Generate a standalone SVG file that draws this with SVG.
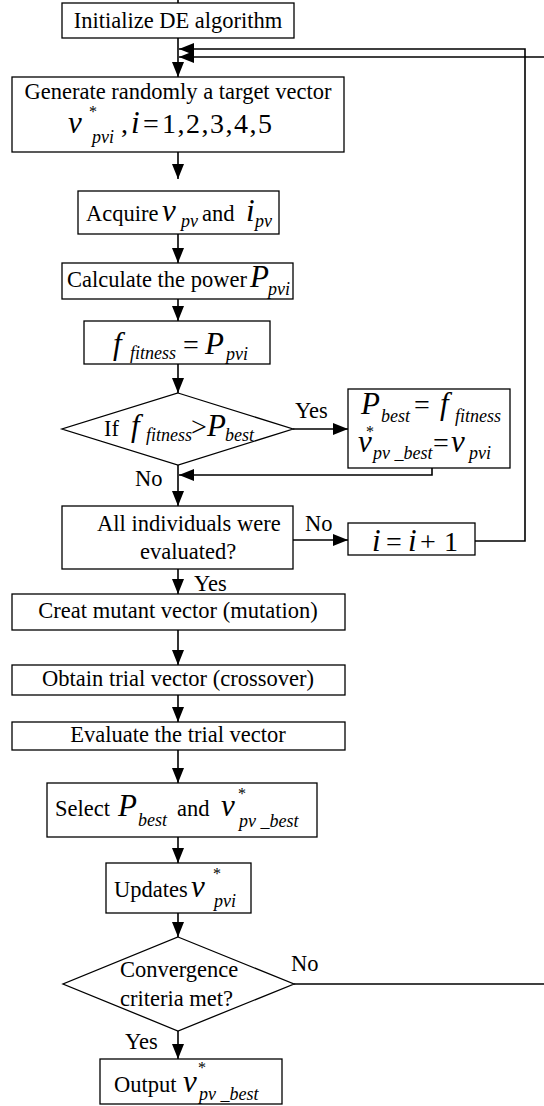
<svg xmlns="http://www.w3.org/2000/svg" width="544" height="1106" viewBox="0 0 544 1106">
<style>
.bx{fill:#fff;stroke:#000;stroke-width:1.3}
.ln{fill:none;stroke:#000;stroke-width:1.6}
.t{font-family:"Liberation Serif","Times New Roman",serif;font-size:22.5px;fill:#000}
.m{font-family:"Liberation Serif","Times New Roman",serif;font-style:italic;font-size:31px;fill:#000}
.u{font-family:"Liberation Serif","Times New Roman",serif;font-size:28px;fill:#000}
.s{font-family:"Liberation Serif","Times New Roman",serif;font-style:italic;font-size:18px;fill:#000}
.a{font-family:"Liberation Serif","Times New Roman",serif;font-size:16px;fill:#000}
</style>
<defs>
<marker id="ah" markerWidth="15" markerHeight="12" refX="15" refY="6" orient="auto" markerUnits="userSpaceOnUse"><path d="M0,0 L15,6 L0,12 z" fill="#000"/></marker>
</defs>
<rect width="544" height="1106" fill="#fff"/>
<g id="connectors">
<line class="ln" x1="178" y1="0" x2="178" y2="3"/>
<line class="ln" x1="178" y1="38" x2="178" y2="77" marker-end="url(#ah)"/>
<polyline class="ln" points="475,541 525,541 525,49 179,49" marker-end="url(#ah)"/>
<polyline class="ln" points="294,984 546,984"/>
<polyline class="ln" points="546,57 179,57" marker-end="url(#ah)"/>
<line class="ln" x1="178" y1="152" x2="178" y2="179" marker-end="url(#ah)"/>
<line class="ln" x1="178" y1="234" x2="178" y2="263" marker-end="url(#ah)"/>
<line class="ln" x1="178" y1="299" x2="178" y2="321" marker-end="url(#ah)"/>
<line class="ln" x1="178" y1="364" x2="178" y2="393" marker-end="url(#ah)"/>
<line class="ln" x1="293" y1="429" x2="348" y2="429" marker-end="url(#ah)"/>
<polyline class="ln" points="432,468 432,475 179,475" marker-end="url(#ah)"/>
<line class="ln" x1="178" y1="465" x2="178" y2="506" marker-end="url(#ah)"/>
<line class="ln" x1="293" y1="540" x2="348" y2="540" marker-end="url(#ah)"/>
<line class="ln" x1="178" y1="569" x2="178" y2="594" marker-end="url(#ah)"/>
<line class="ln" x1="178" y1="630" x2="178" y2="665" marker-end="url(#ah)"/>
<line class="ln" x1="178" y1="695" x2="178" y2="722" marker-end="url(#ah)"/>
<line class="ln" x1="178" y1="750" x2="178" y2="783" marker-end="url(#ah)"/>
<line class="ln" x1="178" y1="837" x2="178" y2="863" marker-end="url(#ah)"/>
<line class="ln" x1="178" y1="913" x2="178" y2="937" marker-end="url(#ah)"/>
<line class="ln" x1="178" y1="1031" x2="178" y2="1059" marker-end="url(#ah)"/>
<text class="t" x="295" y="418">Yes</text>
<text class="t" x="135" y="486">No</text>
<text class="t" x="305" y="531">No</text>
<text class="t" x="194" y="591">Yes</text>
<text class="t" x="291" y="971">No</text>
<text class="t" x="125" y="1049">Yes</text>
</g>
<g id="init">
<rect class="bx" x="62" y="3" width="232" height="35"/>
<text class="t" x="178" y="28" text-anchor="middle">Initialize DE algorithm</text>
</g>
<g id="generate">
<rect class="bx" x="12" y="77" width="332" height="75"/>
<text class="t" x="178" y="99" text-anchor="middle">Generate randomly a target vector</text>
<text class="m" x="68" y="133">v</text>
<text class="a" x="89" y="117">*</text>
<text class="s" x="92" y="143">pvi</text>
<text class="u" x="121" y="133" font-size="26">,</text>
<text class="m" x="131" y="133" font-size="27">i</text>
<text class="u" x="143" y="133" font-size="26">=</text>
<text class="u" x="162" y="133" font-size="27" textLength="110" lengthAdjust="spacing">1,2,3,4,5</text>
</g>
<g id="acquire">
<rect class="bx" x="78" y="191" width="201" height="43"/>
<text class="t" x="86" y="221">Acquire</text>
<text class="m" x="162" y="221">v</text>
<text class="s" x="181" y="227">pv</text>
<text class="t" x="202" y="221">and</text>
<text class="m" x="246" y="221">i</text>
<text class="s" x="255" y="227">pv</text>
</g>
<g id="calculate">
<rect class="bx" x="62" y="263" width="231" height="36"/>
<text class="t" x="67" y="287">Calculate the power</text>
<text class="m" x="250" y="287">P</text>
<text class="s" x="268" y="295">pvi</text>
</g>
<g id="fitness">
<rect class="bx" x="84" y="321" width="186" height="43"/>
<text class="m" x="113" y="354">f</text>
<text class="s" x="130" y="359" font-size="19">fitness</text>
<text class="u" x="183" y="354" font-size="30">=</text>
<text class="m" x="205" y="354">P</text>
<text class="s" x="226" y="360" font-size="19">pvi</text>
</g>
<g id="decision1">
<polygon class="bx" points="178,393 293,429 178,465 62,429"/>
<text class="t" x="104" y="436">If</text>
<text class="m" x="131" y="436">f</text>
<text class="s" x="146" y="441" font-size="17">fitness</text>
<text class="u" x="191" y="436" font-size="26">&gt;</text>
<text class="m" x="207" y="436">P</text>
<text class="s" x="225" y="441" font-size="17">best</text>
</g>
<g id="update-best">
<rect class="bx" x="348" y="389" width="162" height="79"/>
<text class="m" x="361" y="414">P</text>
<text class="s" x="381" y="422">best</text>
<text class="u" x="414" y="414">=</text>
<text class="m" x="440" y="414">f</text>
<text class="s" x="455" y="422">fitness</text>
<text class="m" x="358" y="452">v</text>
<text class="a" x="366" y="437">*</text>
<text class="s" x="373" y="459" font-size="17">pv _best</text>
<text class="u" x="433" y="452" font-size="26">=</text>
<text class="m" x="451" y="452">v</text>
<text class="s" x="469" y="459">pvi</text>
</g>
<g id="all-evaluated">
<rect class="bx" x="62" y="506" width="231" height="63"/>
<text class="t" x="97" y="531">All individuals were</text>
<text class="t" x="140" y="559">evaluated?</text>
</g>
<g id="increment">
<rect class="bx" x="348" y="523" width="127" height="32"/>
<text class="m" x="372" y="551" font-size="32">i</text>
<text class="u" x="386" y="551" font-size="32">=</text>
<text class="m" x="408" y="551" font-size="32">i</text>
<text class="u" x="420" y="551" font-size="32">+</text>
<text class="u" x="444" y="551" font-size="32">1</text>
</g>
<g id="mutation">
<rect class="bx" x="12" y="594" width="333" height="36"/>
<text class="t" x="178" y="618" text-anchor="middle">Creat mutant vector (mutation)</text>
</g>
<g id="crossover">
<rect class="bx" x="12" y="665" width="333" height="30"/>
<text class="t" x="178" y="686" text-anchor="middle">Obtain trial vector (crossover)</text>
</g>
<g id="evaluate">
<rect class="bx" x="12" y="722" width="333" height="28"/>
<text class="t" x="178" y="742" text-anchor="middle">Evaluate the trial vector</text>
</g>
<g id="select">
<rect class="bx" x="47" y="783" width="270" height="54"/>
<text class="t" x="55" y="816">Select</text>
<text class="m" x="118" y="816" font-size="33">P</text>
<text class="s" x="138" y="826">best</text>
<text class="t" x="177" y="816">and</text>
<text class="m" x="221" y="816" font-size="33">v</text>
<text class="a" x="238" y="799">*</text>
<text class="s" x="239" y="827">pv _best</text>
</g>
<g id="updates">
<rect class="bx" x="106" y="863" width="145" height="50"/>
<text class="t" x="114" y="897">Updates</text>
<text class="m" x="191" y="897">v</text>
<text class="a" x="213" y="879">*</text>
<text class="s" x="214" y="907">pvi</text>
</g>
<g id="convergence">
<polygon class="bx" points="178,937 294,984 178,1031 63,984"/>
<text class="t" x="120" y="977">Convergence</text>
<text class="t" x="120" y="1006">criteria met?</text>
</g>
<g id="output">
<rect class="bx" x="100" y="1059" width="182" height="45"/>
<text class="t" x="114" y="1092">Output</text>
<text class="m" x="183" y="1092">v</text>
<text class="a" x="198" y="1073">*</text>
<text class="s" x="199" y="1100">pv _best</text>
</g>
</svg>
